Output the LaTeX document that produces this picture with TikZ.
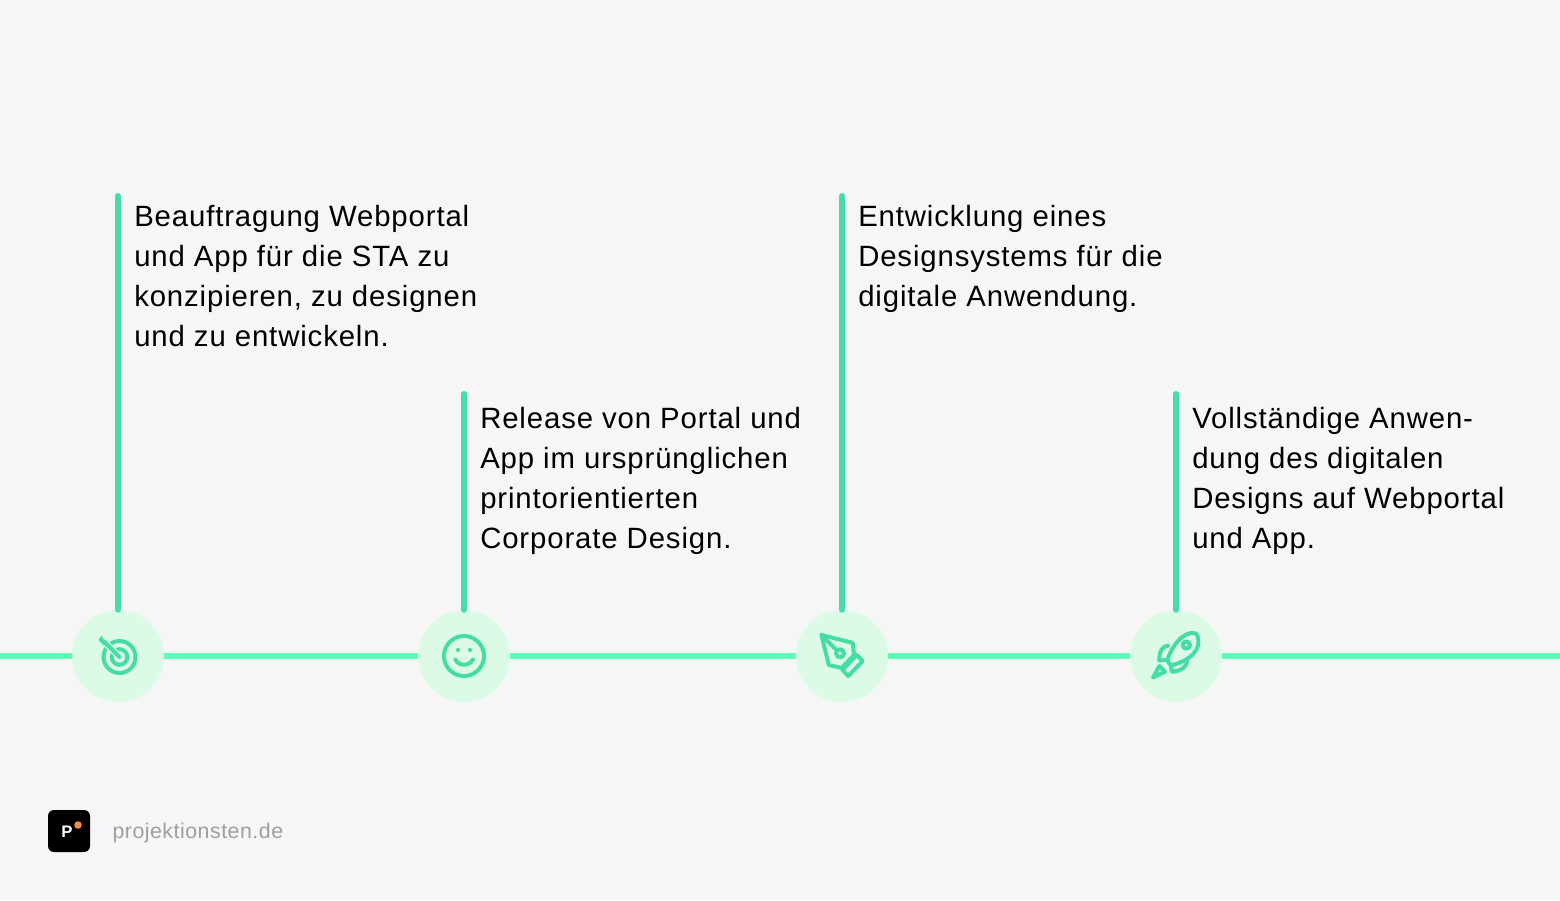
\documentclass[tikz,border=0pt]{standalone}
\usepackage{fontspec}
\setmainfont[LetterSpace=3]{Liberation Sans}
\newfontfamily\logofont[LetterSpace=2.4]{Liberation Sans}
\usetikzlibrary{positioning}
\definecolor{pageBg}{HTML}{F6F6F6}
\definecolor{lineGreen}{HTML}{5FFBB9}
\definecolor{stemGreen}{HTML}{46DCA8}
\definecolor{softGreen}{HTML}{DCFBE6}
\definecolor{dotOrange}{HTML}{F5854A}
\tikzset{%
	% 1 unit is one pixel of the reference
	timeline/.style = {draw=lineGreen, line width=4.5pt},
	stem/.style = {draw=stemGreen, line width=4.5pt, line cap=round},
	milestone/.style = {circle, fill=softGreen, minimum size=69pt, inner sep=0pt},
	caption/.style = {right, inner sep=0pt, align=left, font=\fontsize{22pt}{30pt}\selectfont, text=black},
	icon/.style = {draw=stemGreen, line width=3pt, line cap=round, line join=round},
}

\begin{document}
\begin{tikzpicture}[x=0.75pt, y=-0.75pt]
	\fill[pageBg] (0,0) rectangle (1560,900);
	\useasboundingbox (0,0) rectangle (1560,900);
	
	% milestones on the line
	\coordinate (lineStart) at (0,656);
	\coordinate (lineEnd) at (1560,656);
	\node (goalCirc) [milestone] at (118,656) {};
	\node (smileCirc) [milestone] at (464,656) {};
	\node (penCirc) [milestone] at (842,656) {};
	\node (rocketCirc) [milestone] at (1176,656) {};
	\draw[timeline] (lineStart) -- (goalCirc);
	\draw[timeline] (goalCirc) -- (smileCirc);
	\draw[timeline] (smileCirc) -- (penCirc);
	\draw[timeline] (penCirc) -- (rocketCirc);
	\draw[timeline] (rocketCirc) -- (lineEnd);
	
	% stems and their texts
	\coordinate (goalTop) at (118,196);
	\coordinate (smileTop) at (464,394);
	\coordinate (penTop) at (842,196);
	\coordinate (rocketTop) at (1176,394);
	\draw[stem] (goalTop) -- (goalCirc);
	\draw[stem] (smileTop) -- (smileCirc);
	\draw[stem] (penTop) -- (penCirc);
	\draw[stem] (rocketTop) -- (rocketCirc);
	\node (goalText) [caption, anchor=north west] at (134,205) {Beauftragung Webportal\\und App für die STA zu\\konzipieren, zu designen\\und zu entwickeln.};
	\node (smileText) [caption, anchor=north west] at (480,407) {Release von Portal und\\App im ursprünglichen\\printorientierten\\Corporate Design.};
	\node (penText) [caption, anchor=north west] at (858,205) {Entwicklung eines\\Designsystems für die\\digitale Anwendung.};
	\node (rocketText) [caption, anchor=north west] at (1192,407) {Vollständige Anwen-\\dung des digitalen\\Designs auf Webportal\\und App.};
	
	% target icon
	\draw[icon] (119.5,657) circle (16);
	\draw[icon] (119.5,657) circle (7.8);
	\draw[softGreen, line width=5pt] (119.5,657) -- (103,640.5);
	\draw[icon] (119.5,657) -- (104,641.5);
	\fill[stemGreen] (101.5,635.5) -- (104.5,641) -- (107,644) -- (104,645.5) -- (98.5,640) -- cycle;
	
	% smiley icon
	\draw[icon] (464,656) circle (20);
	\fill[stemGreen] (458,650) circle (2.1);
	\fill[stemGreen] (470,650) circle (2.1);
	\draw[icon] (455.3,659.5) .. controls (459,666.5) and (469,666.5) .. (473,659.5);
	
	% pen icon
	\draw[icon] (821.5,635) -- (852.7,642.8) -- (854,655) -- (841.7,668) -- (828.8,665) -- cycle;
	\draw[icon] (821.5,635) -- (835.5,649);
	\draw[icon] (840,653.3) circle (4);
	\draw[icon] (856.8,655) -- (862.8,661) -- (848.3,676) -- (842.4,670) -- cycle;
	
	% rocket icon
	\draw[icon] (1196.5,634) .. controls (1190,630) and (1176,637) .. (1168,658) .. controls (1166.5,662) and (1170,665.5) .. (1173,665) .. controls (1190,660) and (1202,650) .. (1197.5,636) -- cycle;
	\draw[icon] (1186.3,645) circle (3.6);
	\draw[icon] (1168,645.7) .. controls (1163,646) and (1159.5,650) .. (1159.2,660.5) -- (1165.7,660);
	\draw[icon] (1187.3,661) .. controls (1187,666) and (1182,671) .. (1171.8,671.8) -- (1170.7,665);
	\draw[icon] (1153,677.5) -- (1159.3,666) -- (1165,671.8) -- cycle;
	
	% logo
	\node (logoBox) [rectangle, rounded corners=4.5pt, fill=black, minimum size=31.5pt, inner sep=0pt] at (69,831) {};
	\node (logoLetter) [inner sep=0pt, text=white, font=\fontsize{12.5pt}{12.5pt}\selectfont\bfseries] at (67,832) {P};
	\fill[dotOrange] (78,825) circle (3.8);
	\node (logoText) [right=16.5pt of logoBox, yshift=-1.2pt, inner sep=0pt, text=black!38, font=\logofont\fontsize{16pt}{18pt}\selectfont] {projektionsten.de};
\end{tikzpicture}
\end{document}
